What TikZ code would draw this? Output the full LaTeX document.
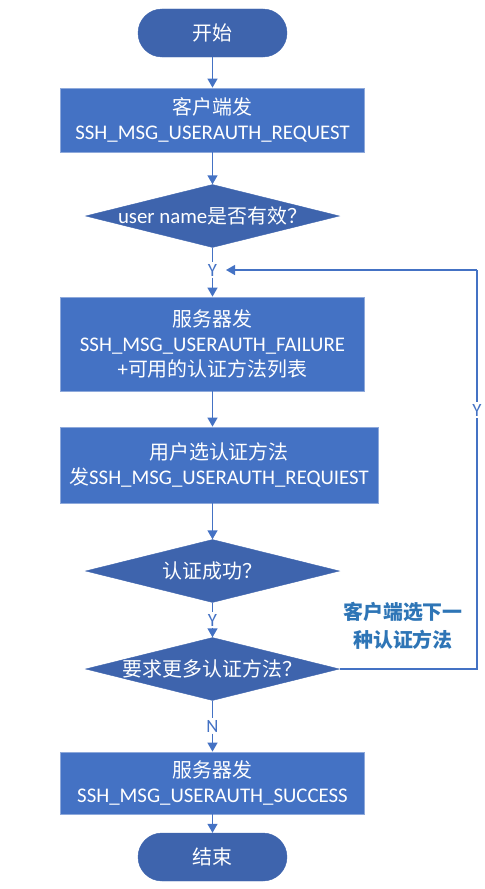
\documentclass[tikz,border=0pt]{standalone}
\usepackage{fontspec}
\setmainfont{Carlito}[Scale=1.045]
\newfontfamily\cjk{Noto Sans CJK SC}
\usetikzlibrary{arrows.meta,shapes.geometric}
\definecolor{dark}{HTML}{3E64AD}
\definecolor{boxc}{HTML}{4472C4}
\definecolor{edgec}{HTML}{8EA9DB}
\definecolor{linec}{HTML}{4472C4}
\definecolor{lblc}{HTML}{2E75B6}
\tikzset{
  term/.style={draw=dark, fill=dark, rounded corners=24bp, minimum width=149bp, minimum height=48bp, inner sep=0pt, text=white, font=\fontsize{20}{25}\selectfont},
  proc/.style={draw=edgec, line width=0.8bp, fill=boxc, minimum height=62bp, inner sep=0pt, text=white, align=center, font=\fontsize{20}{25.5}\selectfont},
  dia/.style={diamond, draw=dark, fill=dark, minimum width=254bp, minimum height=63bp, inner sep=0pt,
     label={[text=white, font=\fontsize{20}{24}\selectfont]center:#1}},
  yn/.style={fill=white, text=linec, inner sep=1.5bp, font=\fontsize{18}{20}\selectfont},
  conn/.style={draw=linec, line width=1.4bp},
  arr/.style={conn, -{Triangle[width=10bp,length=9bp]}},
}
\begin{document}
\begin{tikzpicture}[x=1bp,y=-1bp]
\useasboundingbox (0,0) rectangle (485,889);
\node[term] (start) at (212.5,33) {\cjk 开始};
\node[proc, minimum width=304bp, minimum height=64bp] (b1) at (212.5,120) {{\cjk 客户端发}\\SSH\_MSG\_USERAUTH\_REQUEST};
\node[dia={user name{\cjk 是否有效？}}] (d1) at (212.5,216) {};
\node[yn] (y1) at (212.5,270) {Y};
\node[proc, minimum width=304bp, minimum height=94bp] (b2) at (212.5,344) {{\cjk 服务器发}\\SSH\_MSG\_USERAUTH\_FAILURE\\{+\cjk 可用的认证方法列表}};
\node[proc, minimum width=318bp, minimum height=76bp] (b3) at (219,465) {{\cjk 用户选认证方法}\\{\cjk 发}SSH\_MSG\_USERAUTH\_REQUIEST};
\node[dia={\cjk 认证成功？}] (d2) at (212.5,571) {};
\node[yn] (y2) at (212.5,620) {Y};
\node[dia={\cjk 要求更多认证方法？}] (d3) at (212.5,669) {};
\node[yn] (n1) at (212.5,726) {N};
\node[proc, minimum width=304bp, minimum height=62bp] (b4) at (212.5,783) {{\cjk 服务器发}\\SSH\_MSG\_USERAUTH\_SUCCESS};
\node[term] (end) at (212.5,857) {\cjk 结束};
\node[text=lblc, align=center, font=\cjk\bfseries\fontsize{20}{28}\selectfont] (lbl) at (403,626) {客户端选下一\\种认证方法};
\coordinate (c1) at (477,669);
\coordinate (c2) at (477,270);
\coordinate (c3) at (226,270);

\draw[arr] (start) -- (b1);
\draw[arr] (b1) -- (d1);
\draw[conn] (d1) -- (y1);
\draw[arr] (y1) -- (b2);
\draw[arr] (b2.south) -- (b2.south |- b3.north);
\draw[arr] (b3.south -| b2.south) -- (d2);
\draw[conn] (d2) -- (y2);
\draw[arr] (y2) -- (d3);
\draw[conn] (d3) -- (n1);
\draw[arr] (n1) -- (b4);
\draw[arr] (b4) -- (end);
\draw[conn] (d3.east) -- (c1) -- (c2);
\draw[arr] (c2) -- (c3);
\node[yn] (y3) at (477,410) {Y};
\end{tikzpicture}
\end{document}
